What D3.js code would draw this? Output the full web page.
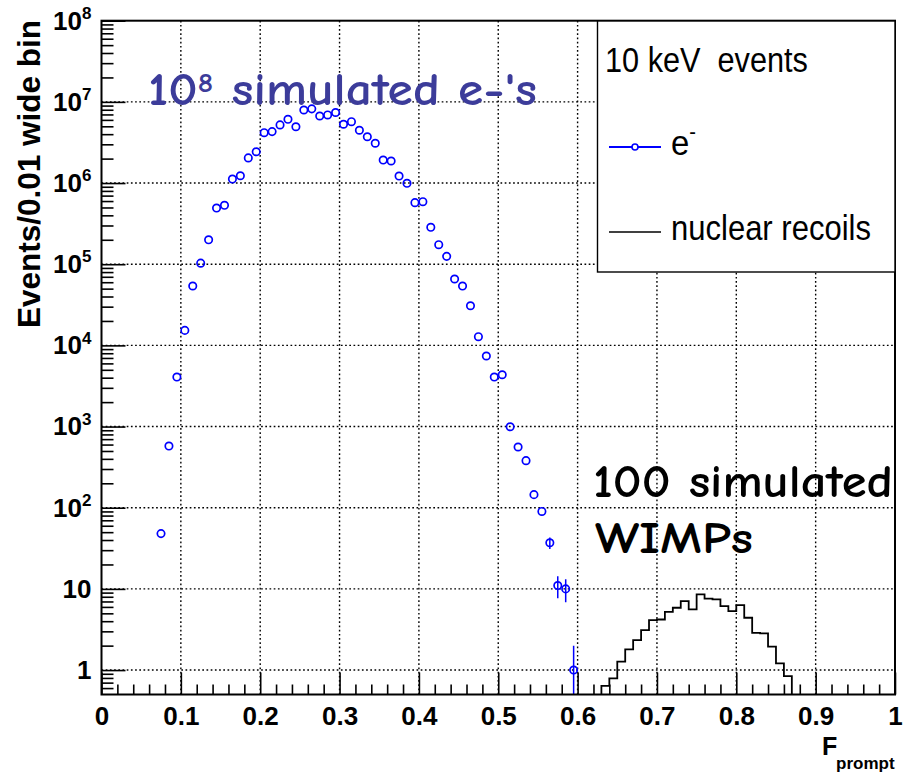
<!DOCTYPE html>
<html><head><meta charset="utf-8">
<script src="https://cdn.jsdelivr.net/npm/d3@7"></script>
<style>
body{margin:0;background:#fff}
svg{display:block}
text{font-family:"Liberation Sans","Helvetica",Arial,sans-serif}
</style>
</head><body>
<svg id="c" width="905" height="773"></svg>
<script>
// ---------- data ----------
const eBinCenters = [0.075,0.085,0.095,0.105,0.115,0.125,0.135,0.145,0.155,0.165,
  0.175,0.185,0.195,0.205,0.215,0.225,0.235,0.245,0.255,0.265,
  0.275,0.285,0.295,0.305,0.315,0.325,0.335,0.345,0.355,0.365,
  0.375,0.385,0.395,0.405,0.415,0.425,0.435,0.445,0.455,0.465,
  0.475,0.485,0.495,0.505,0.515,0.525,0.535,0.545,0.555,0.565,
  0.575,0.585,0.595];
const eCounts = [48,575,4070,15300,53900,103000,200000,492000,532000,1120000,
  1230000,2040000,2430000,4170000,4300000,5200000,6100000,4940000,7940000,8200000,
  6700000,6900000,7400000,5300000,5700000,4470000,3720000,3090000,1920000,1870000,
  1220000,993000,573000,589000,285000,174000,125000,65700,53800,30800,
  12800,7400,4070,4350,995,560,380,145,90,37,
  11,10,1];
const nrBinEdges = [0.63,0.64,0.65,0.66,0.67,0.68,0.69,0.70,0.71,0.72,0.73,0.74,0.75,
  0.76,0.77,0.78,0.79,0.80,0.81,0.82,0.83,0.84,0.85,0.86,0.87];
const nrCounts = [0.64,0.79,1.27,1.80,2.34,3.11,4.13,4.20,5.20,5.86,7.08,5.60,
  8.57,7.57,7.43,6.15,5.33,6.30,4.41,2.88,2.83,1.94,1.21,0.84];
const xTicks = [0,0.1,0.2,0.3,0.4,0.5,0.6,0.7,0.8,0.9,1];
const xTickLabels = ["0","0.1","0.2","0.3","0.4","0.5","0.6","0.7","0.8","0.9","1"];
const yDecades = [1,10,1e2,1e3,1e4,1e5,1e6,1e7,1e8];
const yTickLabels = ["1","10","10^2","10^3","10^4","10^5","10^6","10^7","10^8"];
const legendTitle = "10 keV  events";
const legendLabels = ["e", "nuclear recoils"];

// ---------- layout ----------
const L = 101.5, R = 895, T = 20.7, B = 694.5;
const MR = 3.7;
const svg = d3.select("#c");
const x = d3.scaleLinear([0, 1], [L, R]);
const y = d3.scaleLog([0.5, 1e8], [B, T]);

svg.append("rect").attr("width",905).attr("height",773).attr("fill","#fff");

// clip
svg.append("clipPath").attr("id","plot").append("rect")
  .attr("x",L).attr("y",T).attr("width",R-L).attr("height",B-T);

// grid
const grid = svg.append("g").attr("stroke","#000").attr("stroke-width",1.4)
  .attr("stroke-dasharray","1.7,2.5");
grid.selectAll("line.v").data(xTicks.filter(d=>d>0&&d<1)).join("line")
  .attr("x1",d=>x(d)).attr("x2",d=>x(d)).attr("y1",T).attr("y2",B);
grid.selectAll("line.h").data(yDecades.filter(d=>d<1e8)).join("line")
  .attr("y1",d=>y(d)).attr("y2",d=>y(d)).attr("x1",L).attr("x2",R);

// data layer
const data = svg.append("g").attr("clip-path","url(#plot)");

// nuclear recoil histogram
const hpts = [[nrBinEdges[0], 0.5]];
nrCounts.forEach((c,i)=>{ hpts.push([nrBinEdges[i], c]); hpts.push([nrBinEdges[i+1], c]); });
hpts.push([nrBinEdges[nrBinEdges.length-1], 0.5]);
data.append("path").attr("d", d3.line().x(d=>x(d[0])).y(d=>y(Math.max(d[1],0.5)))(hpts))
  .attr("fill","none").attr("stroke","#000").attr("stroke-width",1.8);

// electron error bars (only where they reach outside the marker) and markers
const ePts = eBinCenters.map((c,i)=>({x:c, v:eCounts[i]}));
const errPts = ePts.filter(d => (y(Math.max(d.v-Math.sqrt(d.v),0.5)) - y(d.v+Math.sqrt(d.v)))/2 > MR + 2);
data.selectAll("line.err").data(errPts).join("line")
  .attr("x1",d=>x(d.x)).attr("x2",d=>x(d.x))
  .attr("y1",d=>y(d.v+Math.sqrt(d.v)))
  .attr("y2",d=>y(Math.max(d.v-Math.sqrt(d.v),0.5)))
  .attr("stroke","#0000ff").attr("stroke-width",1.5);
data.selectAll("circle.m").data(ePts).join("circle")
  .attr("cx",d=>x(d.x)).attr("cy",d=>y(d.v)).attr("r",MR)
  .attr("fill","none").attr("stroke","#0000ff").attr("stroke-width",1.7);

// axes
const xMinor = d3.range(0,1.0001,0.02).filter(v=>Math.abs(v*10-Math.round(v*10))>1e-6);
const gxMinor = svg.append("g").attr("transform",`translate(0,${B})`)
  .call(d3.axisBottom(x).tickValues(xMinor).tickSizeInner(-10).tickSizeOuter(0).tickFormat(""));
const gx = svg.append("g").attr("transform",`translate(0,${B})`)
  .call(d3.axisBottom(x).tickValues(xTicks).tickSizeInner(-22).tickSizeOuter(0).tickPadding(12)
    .tickFormat((d,i)=>xTickLabels[i]));

const yMinor = [0.6,0.7,0.8,0.9];
yDecades.slice(0,-1).forEach(dv=>{ for(let k=2;k<=9;k++) yMinor.push(k*dv); });
const gyMinor = svg.append("g").attr("transform",`translate(${L},0)`)
  .call(d3.axisLeft(y).tickValues(yMinor).tickSizeInner(-12).tickSizeOuter(0).tickFormat(""));
const gy = svg.append("g").attr("transform",`translate(${L},0)`)
  .call(d3.axisLeft(y).tickValues(yDecades).tickSizeInner(-24).tickSizeOuter(0).tickPadding(10)
    .tickFormat((d,i)=>yTickLabels[i]));

[gxMinor,gx,gyMinor,gy].forEach(g=>{
  g.select(".domain").remove();
  g.selectAll(".tick line").attr("stroke","#000").attr("stroke-width",1.6);
});
gx.selectAll(".tick text").attr("font-size",26).attr("font-weight","bold").attr("fill","#000")
  .style("font-family","'Liberation Sans',Arial,sans-serif");
gy.selectAll(".tick text").attr("font-size",26).attr("font-weight","bold").attr("fill","#000")
  .style("font-family","'Liberation Sans',Arial,sans-serif")
  .each(function(){
    const t = d3.select(this); const s = t.text();
    if (s.includes("^")) {
      const [base, exp] = s.split("^");
      t.text(base);
      t.append("tspan").attr("font-size",17).attr("dy","-0.62em").text(exp);
    }
  });

// frame
svg.append("rect").attr("x",L).attr("y",T).attr("width",R-L).attr("height",B-T)
  .attr("fill","none").attr("stroke","#000").attr("stroke-width",2);

// axis titles
svg.append("text").attr("transform","translate(40,20) rotate(-90)")
  .attr("text-anchor","end").attr("font-size",31.5).attr("font-weight","bold")
  .text("Events/0.01 wide bin");
const xt = svg.append("text").attr("font-weight","bold");
xt.append("tspan").attr("x",822).attr("y",755).attr("font-size",25).text("F");
xt.append("tspan").attr("x",836).attr("y",769).attr("font-size",17).text("prompt");

// helper: squeeze text horizontally to a target width
function fit(sel, x0, target){
  const w = sel.node().getBBox().width;
  const s = target / w;
  sel.attr("transform", `translate(${x0},0) scale(${s},1) translate(${-x0},0)`);
}

// annotations
const comic = "'Comic Sans MS','Comic Neue','Open Sans','Noto Sans',sans-serif";
const a1 = svg.append("text").attr("x",148).attr("y",105).attr("font-size",46)
  .attr("font-weight","bold").attr("fill","#3c3c9a").style("font-family",comic);
a1.append("tspan").text("10");
a1.append("tspan").attr("font-size",27).attr("dy",-13).text("8");
a1.append("tspan").attr("dy",13).text(" simulated e-'s");
fit(a1,148,389);

const a2 = svg.append("text").attr("x",593).attr("y",497).attr("font-size",46)
  .attr("font-weight","bold").attr("fill","#000").style("font-family",comic).text("100 simulated");
fit(a2,593,300);
const a3 = svg.append("text").attr("x",595).attr("y",553).attr("font-size",44)
  .attr("font-weight","bold").attr("fill","#000").style("font-family",comic).text("WIMPs");
fit(a3,595,158);

// legend
const lg = svg.append("g");
lg.append("rect").attr("x",597.5).attr("y",21).attr("width",297.5).attr("height",251)
  .attr("fill","#fff").attr("stroke","#000").attr("stroke-width",1.4);
const lt = lg.append("text").attr("x",605).attr("y",72).attr("font-size",35)
  .style("white-space","pre").text(legendTitle);
fit(lt,605,203);
lg.append("line").attr("x1",609).attr("x2",661).attr("y1",147).attr("y2",147)
  .attr("stroke","#0000ff").attr("stroke-width",2);
lg.append("circle").attr("cx",635).attr("cy",147).attr("r",3).attr("fill","#fff")
  .attr("stroke","#0000ff").attr("stroke-width",1.6);
const le = lg.append("text").attr("x",671).attr("y",155).attr("font-size",36);
le.append("tspan").text(legendLabels[0]);
le.append("tspan").attr("font-size",22).attr("dy",-16).text("-");
fit(le,671,25);
lg.append("line").attr("x1",609).attr("x2",661).attr("y1",232).attr("y2",232)
  .attr("stroke","#000").attr("stroke-width",1.6);
const ln = lg.append("text").attr("x",671).attr("y",240).attr("font-size",36)
  .text(legendLabels[1]);
fit(ln,671,200);
</script>
</body></html>
